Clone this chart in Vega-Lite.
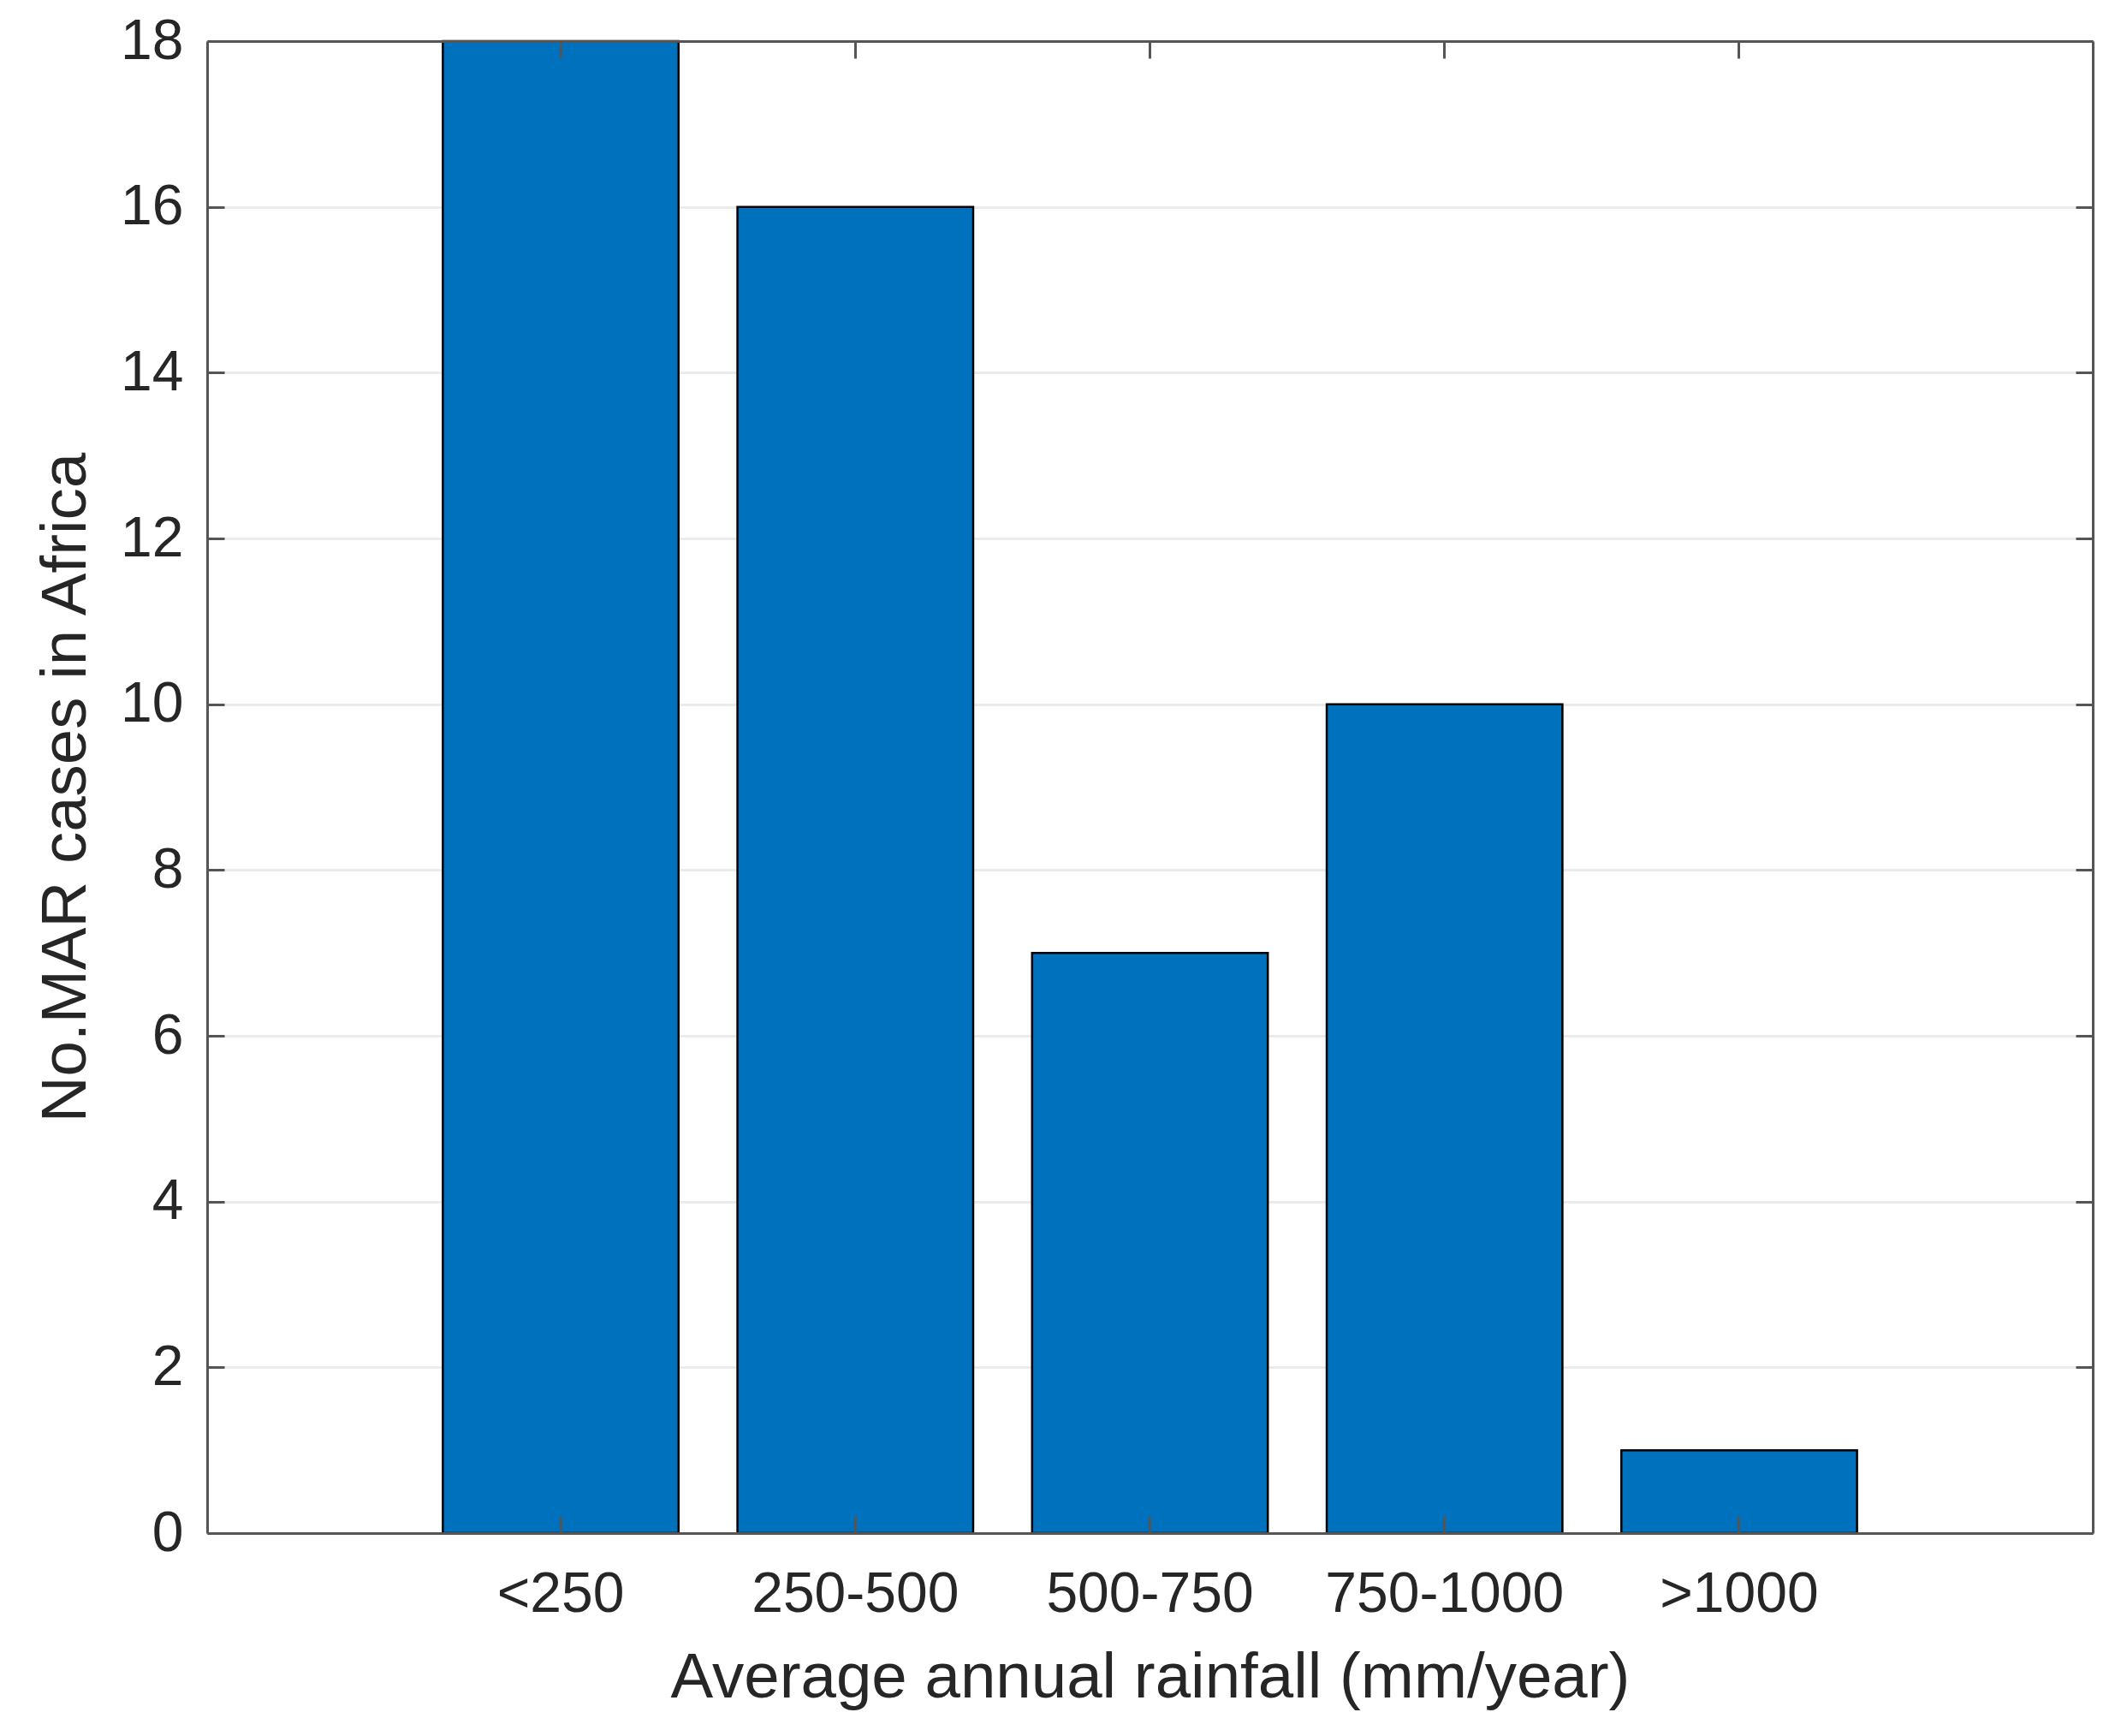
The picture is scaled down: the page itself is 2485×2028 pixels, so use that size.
{
  "$schema": "https://vega.github.io/schema/vega-lite/v6.json",
  "width": 2203,
  "height": 1743,
  "autosize": {"type": "none"},
  "padding": {"left": 242, "top": 48, "right": 40, "bottom": 237},
  "background": "white",
  "config": {"view": {"stroke": null}, "font": "Liberation Sans"},
  "data": {"values": [
    {"Rainfall": "<250", "Cases": 18},
    {"Rainfall": "250-500", "Cases": 16},
    {"Rainfall": "500-750", "Cases": 7},
    {"Rainfall": "750-1000", "Cases": 10},
    {"Rainfall": ">1000", "Cases": 1}
  ]},
  "layer": [
    {
      "mark": {"type": "bar", "fill": "#0072BD", "stroke": "#000000", "strokeWidth": 2.5},
      "encoding": {
        "x": {
          "field": "Rainfall", "type": "nominal", "sort": null,
          "scale": {"paddingInner": 0.2, "paddingOuter": 0.8},
          "axis": {
            "orient": "bottom", "title": "Average annual rainfall (mm/year)",
            "labelAngle": 0, "labelFontSize": 66, "labelColor": "#262626", "labelPadding": 59, "labelLimit": 0,
            "titleFontSize": 74.5, "titleFontWeight": "normal", "titleColor": "#262626", "titlePadding": 28,
            "domainColor": "#555555", "domainWidth": 3,
            "tickColor": "#555555", "tickWidth": 3, "tickSize": -20,
            "grid": false, "zindex": 1
          }
        },
        "y": {
          "field": "Cases", "type": "quantitative",
          "scale": {"domain": [0, 18], "nice": false, "zero": true},
          "axis": {
            "orient": "left", "title": "No.MAR cases in Africa",
            "values": [0, 2, 4, 6, 8, 10, 12, 14, 16, 18],
            "labelFontSize": 66, "labelColor": "#262626", "labelPadding": 48,
            "titleFontSize": 74.5, "titleFontWeight": "normal", "titleColor": "#262626", "titlePadding": 25,
            "domainColor": "#555555", "domainWidth": 3,
            "tickColor": "#555555", "tickWidth": 3, "tickSize": -20,
            "grid": true, "gridColor": "#ebebeb", "gridWidth": 3, "zindex": 0
          }
        }
      }
    },
    {
      "mark": {"type": "bar", "opacity": 0},
      "encoding": {
        "x": {
          "field": "Rainfall", "type": "nominal", "sort": null,
          "axis": {
            "orient": "top", "title": null, "labels": false,
            "domainColor": "#555555", "domainWidth": 3,
            "tickColor": "#555555", "tickWidth": 3, "tickSize": -20,
            "grid": false, "zindex": 1
          }
        },
        "y": {
          "field": "Cases", "type": "quantitative",
          "axis": {
            "orient": "right", "title": null, "labels": false,
            "values": [0, 2, 4, 6, 8, 10, 12, 14, 16, 18],
            "domainColor": "#555555", "domainWidth": 3,
            "tickColor": "#555555", "tickWidth": 3, "tickSize": -20,
            "grid": false, "zindex": 1
          }
        }
      }
    }
  ],
  "resolve": {"axis": {"x": "independent", "y": "independent"}}
}
